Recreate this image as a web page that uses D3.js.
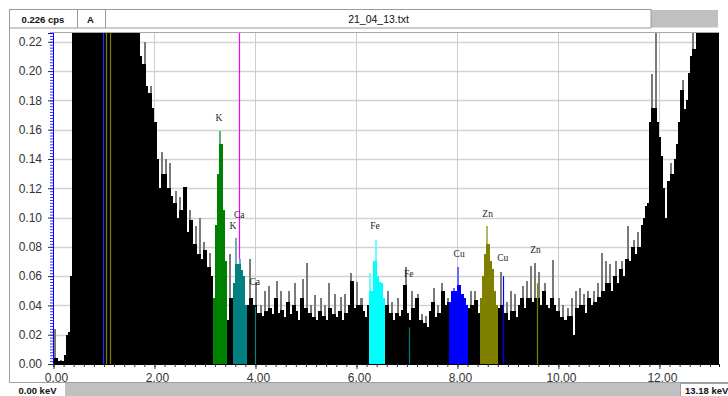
<!DOCTYPE html>
<html><head><meta charset="utf-8">
<script src="https://cdn.jsdelivr.net/npm/d3@7"></script>
<style>body{margin:0;background:#fff;overflow:hidden} svg{display:block}</style>
</head><body><svg id="c" width="728" height="396"></svg>
<script>
// ---------- DATA ----------
const energyMax = 13.18;          // keV, full scale
const cpsMax = 0.226;             // cps, full scale
const channelWidth = 0.04;        // keV per channel
const counts = [
 0.024,0.004,0.002,0.003,0.002,0.006,0.02,0.022,0.06,
 0.26,0.42,0.61,0.78,0.92,1.05,1.12,1.18,1.2,1.16,1.1,1.02,0.95,0.9,0.86,0.84,0.8,0.78,0.74,0.7,0.66,0.62,0.58,0.54,0.5,0.46,0.42,0.39,0.36,0.33,0.3,0.28,0.26,0.24,
 0.21,0.205,0.22,0.19,0.185,0.19,0.175,0.165,
 0.14,0.12,0.145,0.13,0.14,0.12,0.137,0.115,0.11,0.118,0.10,0.114,0.105,0.121,0.121,0.09,0.105,0.098,0.082,0.094,0.075,0.10,0.072,0.083,0.078,0.066,0.076,0.06,
 0.045,0.095,0.13,0.159,0.15,0.105,0.07,0.03,
 0.075,0.045,
 0.055,0.086,0.068,0.072,0.064,0.06,0.04,
 0.04,0.072,0.045,0.04,0.056,
 0.035,0.04,0.033,0.05,0.036,0.053,0.038,0.034,0.045,0.057,
 0.035,0.05,0.037,0.032,0.042,0.05,0.034,0.04,0.055,0.036,
 0.03,0.045,0.058,0.038,0.069,0.035,0.04,0.032,0.047,0.03,
 0.036,0.045,0.033,0.04,0.03,0.055,0.038,0.034,0.048,0.032,
 0.036,0.046,0.03,0.048,0.035,0.04,0.062,0.057,0.038,0.056,
 0.04,0.045,0.036,0.032,0.04,
 0.062,0.05,0.07,0.085,0.06,0.056,0.055,0.045,
 0.04,0.05,0.035,0.042,0.03,0.035,0.045,0.033,0.037,0.054,
 0.066,0.035,0.03,0.05,0.038,0.045,0.048,0.03,0.034,0.028,
 0.033,0.025,0.036,0.042,0.052,0.032,0.04,0.035,0.055,0.05,
 0.04,0.045,
 0.042,0.05,0.052,0.05,0.066,0.054,0.048,0.045,0.04,
 0.038,0.05,0.04,0.05,0.044,0.035,
 0.045,0.06,0.075,0.094,0.082,0.07,0.065,0.05,0.04,
 0.038,0.063,0.04,0.035,0.042,0.03,0.05,0.036,0.048,0.032,
 0.04,0.045,0.053,0.038,0.057,0.045,0.067,0.042,0.069,
 0.045,0.063,0.04,0.05,0.055,0.04,0.038,0.045,0.071,0.04,
 0.036,0.045,0.032,0.04,0.03,0.038,0.033,0.045,0.02,0.05,
 0.038,0.052,0.04,0.048,0.035,0.05,0.045,0.04,0.05,0.042,
 0.055,0.046,0.076,0.05,0.07,0.055,0.068,0.05,0.06,0.07,
 0.055,0.065,0.07,0.06,0.072,0.094,0.07,0.08,0.085,0.075,
 0.09,0.08,0.095,0.1,0.108,0.11,0.165,0.198,0.175,0.24,
 0.165,0.155,0.142,0.12,0.10,0.125,0.137,0.13,0.14,0.15,
 0.165,0.187,0.194,0.174,0.18,0.199,0.21,0.24,0.215,0.25,
 0.3,0.35,0.4,0.45,0.5,0.55,0.6,0.65,0.7,0.75,0.8
];
// element regions of interest (keV)
const regionNames = ["K", "Ca", "Fe", "Cu", "Zn"];
const regionStart = [3.16, 3.56, 6.24, 7.84, 8.44];
const regionEnd   = [3.44, 3.84, 6.56, 8.20, 8.80];
// single-line markers
const markerNames = ["CuL", "Zn", "Zn", "cursor", "Ca", "FeB", "Cu", "Zn"];
const markerEnergy = [0.99, 1.04, 1.12, 3.68, 3.99, 7.046, 8.895, 9.568];
const markerCps    = [0.226, 0.226, 0.226, 0.226, 0.039, 0.025, 0.060, 0.055];
// peak labels
const labelText   = ["K", "Ca", "K", "Ca", "Fe", "Fe", "Cu", "Zn", "Cu", "Zn"];
const labelEnergy = [3.277, 3.677, 3.554, 3.984, 6.366, 7.036, 8.034, 8.598, 8.897, 9.548];
const labelCps    = [0.1686, 0.1024, 0.0946, 0.056, 0.0946, 0.0617, 0.0756, 0.1026, 0.0725, 0.078];
// ticks
const xTicks = [0, 2, 4, 6, 8, 10, 12];
const yTicks = [0, 0.02, 0.04, 0.06, 0.08, 0.10, 0.12, 0.14, 0.16, 0.18, 0.20, 0.22];
// header / footer texts
const headerCps = "0.226 cps";
const headerMode = "A";
const fileName = "21_04_13.txt";
const rangeStartText = "0.00 keV";
const rangeEndText = "13.18 keV";

// ---------- STYLE ----------
const colorOf = {K:"#008000", Ca:"#008080", Fe:"#00ffff", Cu:"#0000ff", CuL:"#2a2aff", Zn:"#808000", FeB:"#008080", cursor:"#ff00ff"};
const uiFont = "'Liberation Sans', Arial, sans-serif";

// ---------- DRAW ----------
const svg = d3.select("#c");
const L = 53.5, R = 719, T = 33, B = 364;
const x = d3.scaleLinear().domain([0, energyMax]).range([L, R]);
const y = d3.scaleLinear().domain([0, cpsMax]).range([B, T]).clamp(true);

svg.append("defs").append("clipPath").attr("id","plot")
  .append("rect").attr("x",L).attr("y",T).attr("width",R-L).attr("height",B-T);

// header bar
svg.append("rect").attr("x",651).attr("y",10).attr("width",67).attr("height",17.5).attr("fill","#c0c0c0");
svg.append("rect").attr("x",9.5).attr("y",9.5).attr("width",641.5).attr("height",18.5)
  .attr("fill","#fff").attr("stroke","#9a9a9a");
[77.5,105.5].forEach(px=>svg.append("line").attr("x1",px).attr("x2",px).attr("y1",10).attr("y2",28).attr("stroke","#9a9a9a"));
svg.append("text").attr("x",43).attr("y",22.5).attr("text-anchor","middle")
  .style("font",`bold 9.5px ${uiFont}`).attr("fill","#111").text(headerCps);
svg.append("text").attr("x",90.5).attr("y",22.5).attr("text-anchor","middle")
  .style("font",`bold 9.5px ${uiFont}`).attr("fill","#111").text(headerMode);
svg.append("text").attr("x",378.5).attr("y",22.5).attr("text-anchor","middle")
  .style("font",`10.5px ${uiFont}`).attr("fill","#111").text(fileName);

// left frame line and plot top line
svg.append("line").attr("x1",9.5).attr("x2",9.5).attr("y1",28).attr("y2",383).attr("stroke","#a0a0a0");
svg.append("line").attr("x1",50).attr("x2",R).attr("y1",T-0.5).attr("y2",T-0.5).attr("stroke","#a8a8a8");

// footer bar
svg.append("rect").attr("x",10).attr("y",382).attr("width",718).attr("height",14).attr("fill","#c0c0c0");
svg.append("line").attr("x1",10).attr("x2",728).attr("y1",382.5).attr("y2",382.5).attr("stroke","#a0a0a0");
svg.append("rect").attr("x",10).attr("y",383).attr("width",55).attr("height",13).attr("fill","#fff");
svg.append("rect").attr("x",680.5).attr("y",383.5).attr("width",50).attr("height",13).attr("fill","#fff").attr("stroke","#a0a0a0");
svg.append("text").attr("x",37.5).attr("y",393.5).attr("text-anchor","middle")
  .style("font",`bold 9.5px ${uiFont}`).attr("fill","#111").text(rangeStartText);
svg.append("text").attr("x",685).attr("y",393.5)
  .style("font",`bold 9.5px ${uiFont}`).attr("fill","#111").text(rangeEndText);

const plot = svg.append("g").attr("clip-path","url(#plot)");

// gridlines
plot.selectAll("line.hg").data(yTicks.filter(d=>d>0)).join("line").attr("class","hg")
  .attr("x1",L).attr("x2",R).attr("y1",d=>Math.round(y(d))+0.5).attr("y2",d=>Math.round(y(d))+0.5)
  .attr("stroke","#d2d2d2").attr("stroke-width",1.5);
plot.selectAll("line.vg").data(xTicks.filter(d=>d>0)).join("line").attr("class","vg")
  .attr("x1",d=>Math.round(x(d))+0.5).attr("x2",d=>Math.round(x(d))+0.5).attr("y1",T).attr("y2",B)
  .attr("stroke","#cccccc").attr("stroke-width",1);

// cursor line (behind data)
markerNames.forEach((n,i)=>{
  if(n!=="cursor") return;
  const px = Math.round(x(markerEnergy[i]))+0.5;
  plot.append("line").attr("x1",px).attr("x2",px).attr("y1",T).attr("y2",B)
    .attr("stroke",colorOf.cursor).attr("stroke-width",1.2);
});

// spectrum bars
function regionOf(e){
  for(let k=0;k<regionNames.length;k++) if(e>=regionStart[k] && e<=regionEnd[k]) return regionNames[k];
  return null;
}
const bars = counts.map((v,i)=>{
  const prev = i>0?counts[i-1]:0, next = i<counts.length-1?counts[i+1]:0;
  const c = i*channelWidth + channelWidth/2;
  const x0 = Math.round(x(i*channelWidth)), x1 = Math.round(x((i+1)*channelWidth));
  return {x0, w:x1-x0, v, lo:Math.min(v, Math.max(prev,next)), reg:regionOf(c)};
});
plot.selectAll("rect.hi").data(bars).join("rect").attr("class","hi")
  .attr("shape-rendering","crispEdges")
  .attr("x",d=>d.x0).attr("width",d=>d.w)
  .attr("y",d=>Math.round(y(d.v))).attr("height",d=>B-Math.round(y(d.v)))
  .attr("fill",d=>d.reg? d3.interpolateRgb(colorOf[d.reg],"#fff")(0.4) : "#7a7a7a");
plot.selectAll("rect.lo").data(bars).join("rect").attr("class","lo")
  .attr("shape-rendering","crispEdges")
  .attr("x",d=>d.x0).attr("width",d=>d.w)
  .attr("y",d=>Math.round(y(d.lo))).attr("height",d=>B-Math.round(y(d.lo)))
  .attr("fill",d=>d.reg? colorOf[d.reg] : "#000");

// thin marker lines over data
markerNames.forEach((n,i)=>{
  if(n==="cursor") return;
  const px = Math.round(x(markerEnergy[i]))+0.5;
  plot.append("line").attr("x1",px).attr("x2",px).attr("y1",y(markerCps[i])).attr("y2",B)
    .attr("stroke",colorOf[n]).attr("stroke-width",1.2);
});

// peak labels
svg.selectAll("text.lbl").data(labelText).join("text").attr("class","lbl")
  .attr("x",(d,i)=>x(labelEnergy[i])).attr("y",(d,i)=>y(labelCps[i])+3.5)
  .attr("text-anchor","middle")
  .style("font","9.5px 'Liberation Serif', 'Times New Roman', serif").attr("fill","#222")
  .text(d=>d);

// axes
const yMinor = d3.range(0, cpsMax+1e-9, 0.002);
const gyMinor = svg.append("g").attr("transform",`translate(${L-0.5},0)`)
  .call(d3.axisLeft(y).tickValues(yMinor).tickSize(3).tickFormat(""));
gyMinor.select(".domain").attr("stroke","#0000ff");
gyMinor.selectAll(".tick line").attr("stroke","#3030ff");
const gy = svg.append("g").attr("transform",`translate(${L-0.5},0)`)
  .call(d3.axisLeft(y).tickValues(yTicks).tickSize(5).tickPadding(6).tickFormat(d3.format(".2f")));
gy.select(".domain").attr("stroke","#0000ff");
gy.selectAll(".tick line").attr("stroke","#333");
gy.selectAll("text").style("font",`12px ${uiFont}`).attr("fill","#333");

const xMinor = d3.range(0, energyMax, 0.2);
const gxMinor = svg.append("g").attr("transform",`translate(0,${B})`)
  .call(d3.axisBottom(x).tickValues(xMinor).tickSize(3).tickFormat(""));
gxMinor.select(".domain").attr("stroke","#000");
gxMinor.selectAll(".tick line").attr("stroke","#333");
const gx = svg.append("g").attr("transform",`translate(0,${B})`)
  .call(d3.axisBottom(x).tickValues(xTicks).tickSize(5).tickPadding(4).tickFormat(d3.format(".2f")));
gx.select(".domain").remove();
gx.selectAll(".tick line").attr("stroke","#333");
gx.selectAll("text").attr("dx",2.5).style("font",`12px ${uiFont}`).attr("fill","#333");
</script></body></html>
